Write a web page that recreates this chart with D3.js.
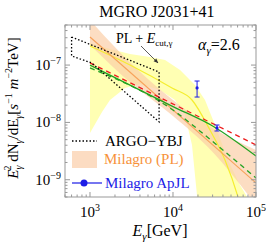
<!DOCTYPE html>
<html>
<head>
<meta charset="utf-8">
<script src="https://cdn.jsdelivr.net/npm/d3@7"></script>
<style>
body { margin: 0; background: #fff; }
text { font-family: "Liberation Serif", "DejaVu Serif", serif; }
</style>
</head>
<body>
<div id="chart"></div>
<script>
// energies in GeV, fluxes E^2 dN/dE in s^-1 m^-2 TeV

// Milagro power-law fit (central line + band)
var plLineE = [1e3, 1e5];
var plLineF = [3.09e-7, 8.8e-10];
var plBandE = [1e3, 3e3, 1e4, 3e4, 1e5];
var plBandHi = [6.1e-7, 1.13e-7, 2.46e-8, 7.98e-9, 3.3e-9];
var plBandLo = [2.24e-7, 5.07e-8, 1.29e-8, 3.05e-9, 3.6e-10];

// PL + Ecut fit (central line + band)
var cutLineE = [1e3, 3036, 9730, 16940, 27900, 42300, 60700, 75000];
var cutLineF = [2.15e-7, 1.0e-7, 3.98e-8, 2.46e-8, 7.36e-9, 2.21e-9, 5.0e-10, 1.6e-10];
var cutHiE = [1000, 1742, 3034, 5284, 8017, 12160, 18400, 24300, 32100, 46000, 64100, 89500];
var cutHiF = [2.43e-7, 1.9e-7, 1.56e-7, 1.38e-7, 1.23e-7, 8.2e-8, 4.49e-8, 2.46e-8, 9.0e-9, 2.21e-9, 8.1e-10, 3.6e-10];
var cutLoE = [1000, 1396, 1742, 2642, 4008, 6970, 10580, 13960, 16940, 20000];
var cutLoF = [6.53e-9, 1.52e-8, 2.46e-8, 3.98e-8, 4.68e-8, 3.67e-8, 2.46e-8, 1.35e-8, 4.04e-9, 3.6e-10];

// model curves
var redE = [1e3, 1e5];
var redF = [1.09e-7, 4.04e-9];
var greenE = [1e3, 1e4, 3e4, 1e5];
var greenF = [1.0e-7, 1.89e-8, 8.65e-9, 2.59e-9];
var greenDashF = [8.9e-8, 1.64e-8, 4.65e-9, 1.07e-9];

// ARGO-YBJ butterfly outline
var argoE = [600, 6800, 6800, 1050, 600, 600];
var argoF = [3.09e-7, 7.57e-8, 1.02e-8, 1.09e-7, 1.44e-7, 3.09e-7];

// Milagro ApJL points
var apjlE = [19500, 33900];
var apjlF = [4.0e-8, 8.0e-9];
var apjlLo = [2.77e-8, 7.08e-9];
var apjlHi = [5.27e-8, 9.0e-9];

var xTicks = [1e3, 1e4, 1e5];
var xTickExp = ["3", "4", "5"];
var yTicks = [1e-9, 1e-8, 1e-7];
var yTickExp = ["\u22129", "\u22128", "\u22127"];

var W = 266, H = 246;
var svg = d3.select("#chart").append("svg").attr("width", W).attr("height", H);

var x = d3.scaleLog().domain([500, 1e5]).range([65, 256]);
var y = d3.scaleLog().domain([5e-10, 5e-7]).range([197, 25]);

svg.append("defs").append("clipPath").attr("id", "clip")
  .append("rect").attr("x", 65).attr("y", 25).attr("width", 191).attr("height", 172);
svg.select("defs").append("marker").attr("id", "arr")
  .attr("viewBox", "0 0 10 10").attr("refX", 9).attr("refY", 5)
  .attr("markerWidth", 6).attr("markerHeight", 6).attr("orient", "auto")
  .append("path").attr("d", "M0,1 L10,5 L0,9 Z").attr("fill", "#333");

var plot = svg.append("g").attr("clip-path", "url(#clip)");

function pts(E, F) { return E.map(function(e, i) { return [x(e), y(F[i])]; }); }
var line = d3.line().curve(d3.curveMonotoneX);
var poly = d3.line();

// yellow band (PL + Ecut)
var yel = pts(cutHiE, cutHiF).concat(pts(cutLoE, cutLoF).reverse());
plot.append("path").attr("d", poly(yel) + "Z").attr("fill", "#ffffb3");

// pink band (Milagro PL)
var band = d3.area().x(function(d) { return x(d); })
  .y0(function(d, i) { return y(plBandLo[i]); })
  .y1(function(d, i) { return y(plBandHi[i]); })
  .curve(d3.curveMonotoneX);
plot.append("path").datum(plBandE).attr("d", band).attr("fill", "#fbcfa8").attr("opacity", 0.7);

plot.append("path").attr("d", line(pts(cutLineE, cutLineF)))
  .attr("fill", "none").attr("stroke", "#f5ee30").attr("stroke-width", 1.2);
plot.append("path").attr("d", line(pts(plLineE, plLineF)))
  .attr("fill", "none").attr("stroke", "#f7a25a").attr("stroke-width", 1.2);

plot.append("path").attr("d", line(pts(redE, redF)))
  .attr("fill", "none").attr("stroke", "#ee1c1c").attr("stroke-width", 1.3)
  .attr("stroke-dasharray", "5,4");
plot.append("path").attr("d", line(pts(greenE, greenF)))
  .attr("fill", "none").attr("stroke", "#22a322").attr("stroke-width", 1.3);
plot.append("path").attr("d", line(pts(greenE, greenDashF)))
  .attr("fill", "none").attr("stroke", "#22a322").attr("stroke-width", 1.3)
  .attr("stroke-dasharray", "5,4");

plot.append("path").attr("d", poly(pts(argoE, argoF)))
  .attr("fill", "none").attr("stroke", "#000").attr("stroke-width", 1.3)
  .attr("stroke-dasharray", "1.5,2");

// ApJL points
apjlE.forEach(function(e, i) {
  var px = x(e);
  plot.append("line").attr("x1", px).attr("x2", px).attr("y1", y(apjlLo[i])).attr("y2", y(apjlHi[i]))
    .attr("stroke", "#1c1ce6").attr("stroke-width", 1);
  [apjlLo[i], apjlHi[i]].forEach(function(v) {
    plot.append("line").attr("x1", px - 2.5).attr("x2", px + 2.5).attr("y1", y(v)).attr("y2", y(v))
      .attr("stroke", "#1c1ce6").attr("stroke-width", 1);
  });
  plot.append("circle").attr("cx", px).attr("cy", y(apjlF[i])).attr("r", 1.6).attr("fill", "#1c1ce6");
});

// frame and ticks
var frame = svg.append("g").attr("stroke", "#999").attr("stroke-width", 1);
frame.append("rect").attr("x", 65).attr("y", 25).attr("width", 191).attr("height", 172).attr("fill", "none");

var xMinor = [], yMinor = [];
[100, 1000, 10000].forEach(function(d) { for (var k = 2; k <= 9; k++) { var v = d * k; if (v >= 500 && v < 1e5) xMinor.push(v); } });
[1e-10, 1e-9, 1e-8, 1e-7].forEach(function(d) { for (var k = 2; k <= 9; k++) { var v = d * k; if (v >= 5e-10 * 0.999 && v <= 5e-7 * 1.001) yMinor.push(v); } });

function xt(v, len) {
  frame.append("line").attr("x1", x(v)).attr("x2", x(v)).attr("y1", 197).attr("y2", 197 - len);
  frame.append("line").attr("x1", x(v)).attr("x2", x(v)).attr("y1", 25).attr("y2", 25 + len);
}
function yt(v, len) {
  frame.append("line").attr("y1", y(v)).attr("y2", y(v)).attr("x1", 65).attr("x2", 65 + len);
  frame.append("line").attr("y1", y(v)).attr("y2", y(v)).attr("x1", 256).attr("x2", 256 - len);
}
xMinor.forEach(function(v) { xt(v, 2.5); });
xTicks.forEach(function(v) { xt(v, 5); });
yMinor.forEach(function(v) { yt(v, 2.5); });
yTicks.forEach(function(v) { yt(v, 5); });

// tick labels
xTicks.forEach(function(v, i) {
  var t = svg.append("text").attr("x", x(v)).attr("y", 217).attr("text-anchor", "middle").attr("font-size", 15);
  t.append("tspan").text("10");
  t.append("tspan").attr("dy", -6).attr("font-size", 10).text(xTickExp[i]);
});
yTicks.forEach(function(v, i) {
  var t = svg.append("text").attr("x", 61).attr("y", y(v) + 5).attr("text-anchor", "end").attr("font-size", 15);
  t.append("tspan").text("10");
  t.append("tspan").attr("dy", -6).attr("font-size", 10).text(yTickExp[i]);
});

// title
svg.append("text").attr("x", 157).attr("y", 17).attr("text-anchor", "middle").attr("font-size", 16).text("MGRO J2031+41");

// annotations
var ann = svg.append("text").attr("x", 116).attr("y", 43).attr("font-size", 14);
ann.append("tspan").text("PL + ");
ann.append("tspan").attr("font-style", "italic").text("E");
ann.append("tspan").attr("dy", 3).attr("font-size", 9).text("cut,\u03b3");
svg.append("line").attr("x1", 141).attr("y1", 46).attr("x2", 158).attr("y2", 63)
  .attr("stroke", "#333").attr("stroke-width", 0.8).attr("marker-end", "url(#arr)");

var al = svg.append("text").attr("x", 198).attr("y", 50).attr("font-size", 16);
al.append("tspan").attr("font-style", "italic").text("\u03b1");
al.append("tspan").attr("dy", 4).attr("font-size", 11).attr("font-style", "italic").text("\u03b3");
al.append("tspan").attr("dy", -4).text("=2.6");

// legend
svg.append("line").attr("x1", 72).attr("x2", 97).attr("y1", 141).attr("y2", 141)
  .attr("stroke", "#000").attr("stroke-width", 1.3).attr("stroke-dasharray", "1.5,2");
svg.append("text").attr("x", 105).attr("y", 146).attr("font-size", 15).text("ARGO\u2212YBJ");
svg.append("rect").attr("x", 72).attr("y", 151).attr("width", 25).attr("height", 17).attr("fill", "#fcdcc2");
svg.append("text").attr("x", 104).attr("y", 164).attr("font-size", 15).attr("fill", "#f7923a").text("Milagro (PL)");
svg.append("line").attr("x1", 72).attr("x2", 102).attr("y1", 183).attr("y2", 183).attr("stroke", "#1c1ce6").attr("stroke-width", 1.2);
svg.append("circle").attr("cx", 84).attr("cy", 183).attr("r", 3.5).attr("fill", "#1c1ce6");
svg.append("text").attr("x", 105).attr("y", 188).attr("font-size", 15).attr("fill", "#1c1ce6").text("Milagro ApJL");

// axis labels
var xl = svg.append("text").attr("x", 160).attr("y", 236).attr("text-anchor", "middle").attr("font-size", 16);
xl.append("tspan").attr("font-style", "italic").text("E");
xl.append("tspan").attr("dy", 4).attr("font-size", 11).attr("font-style", "italic").text("\u03b3");
xl.append("tspan").attr("dy", -4).text("[GeV]");

var yl = svg.append("text").attr("transform", "translate(18,108) rotate(-90)")
  .attr("text-anchor", "middle").attr("font-size", 15);
yl.append("tspan").attr("font-style", "italic").text("E");
yl.append("tspan").attr("dy", 4).attr("font-size", 10).attr("font-style", "italic").text("\u03b3");
yl.append("tspan").attr("dx", -5).attr("dy", -11).attr("font-size", 10).text("2");
yl.append("tspan").attr("dy", 7).text(" dN");
yl.append("tspan").attr("dy", 4).attr("font-size", 10).attr("font-style", "italic").text("\u03b3");
yl.append("tspan").attr("dy", -4).text("/dE");
yl.append("tspan").attr("dy", 4).attr("font-size", 10).attr("font-style", "italic").text("\u03b3");
yl.append("tspan").attr("dy", -4).text("[");
yl.append("tspan").attr("font-style", "italic").text("s");
yl.append("tspan").attr("dy", -6).attr("font-size", 10).text("\u22121");
yl.append("tspan").attr("dy", 6).text(" ");
yl.append("tspan").attr("font-style", "italic").text("m");
yl.append("tspan").attr("dy", -6).attr("font-size", 10).text("\u22122");
yl.append("tspan").attr("dy", 6).text("TeV]");
</script>
</body>
</html>
